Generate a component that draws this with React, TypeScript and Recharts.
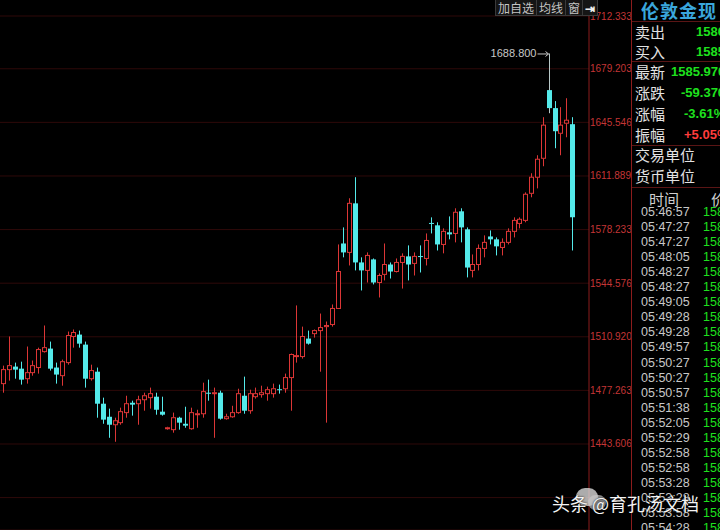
import { Bar, CartesianGrid, ComposedChart, XAxis, YAxis } from 'recharts'

// 伦敦金现 candles (oldest -> newest)
const opens = [
  1481.5, 1490.3, 1492.2, 1490.9, 1484.6, 1488.4, 1491.6, 1501.6, 1503.5, 1491.6,
  1486.5, 1494.7, 1511.1, 1512.3, 1506.0, 1484.6, 1489.0, 1468.9, 1460.7, 1455.7,
  1457.0, 1463.3, 1469.5, 1468.9, 1471.4, 1472.7, 1473.3, 1463.9, 1453.2, 1452.6,
  1460.1, 1456.3, 1453.2, 1462.0, 1462.6, 1475.8, 1475.2, 1475.8, 1459.5, 1460.7,
  1463.3, 1473.9, 1464.5, 1473.3, 1474.6, 1475.2, 1475.2, 1478.0, 1478.3, 1485.3,
  1498.5, 1498.5, 1509.8, 1512.9, 1514.8, 1517.3, 1518.6, 1528.7, 1569.5, 1563.9,
  1594.7, 1557.6, 1552.6, 1559.5, 1545.0, 1550.1, 1556.3, 1551.9, 1557.6, 1561.4,
  1557.0, 1561.6, 1560.1, 1582.4, 1580.9, 1568.9, 1576.5, 1575.8, 1589.7, 1578.4,
  1552.6, 1556.3, 1566.4, 1573.9, 1572.1, 1567.0, 1570.2, 1577.1, 1582.1, 1584.0,
  1601.0, 1611.1, 1623.0, 1665.8, 1654.5, 1638.7, 1645.0, 1644.4,
]
const highs = [
  1492.8, 1511.1, 1494.7, 1495.3, 1504.8, 1496.0, 1504.1, 1518.0, 1507.9, 1494.7,
  1496.6, 1514.2, 1515.5, 1514.8, 1507.9, 1493.4, 1491.6, 1472.7, 1465.8, 1460.1,
  1466.4, 1473.9, 1470.8, 1473.9, 1475.8, 1479.0, 1475.8, 1473.3, 1454.4, 1463.3,
  1460.7, 1467.0, 1466.4, 1465.1, 1482.1, 1484.0, 1479.0, 1477.1, 1462.6, 1467.6,
  1478.3, 1485.9, 1477.7, 1479.0, 1480.2, 1479.6, 1481.5, 1480.9, 1487.8, 1500.4,
  1530.6, 1517.3, 1514.8, 1515.5, 1525.5, 1520.5, 1531.2, 1568.9, 1579.6, 1597.9,
  1611.1, 1560.8, 1563.9, 1560.1, 1550.7, 1569.5, 1557.6, 1560.1, 1563.3, 1568.3,
  1563.9, 1568.3, 1575.8, 1585.9, 1582.8, 1579.0, 1586.5, 1591.6, 1591.6, 1579.6,
  1562.6, 1568.9, 1574.6, 1577.7, 1573.3, 1572.7, 1579.0, 1585.9, 1585.9, 1601.6,
  1613.6, 1624.9, 1648.8, 1688.8, 1658.9, 1655.1, 1660.7, 1648.8,
]
const lows = [
  1475.8, 1483.4, 1484.6, 1480.9, 1481.5, 1486.5, 1487.8, 1501.0, 1489.7, 1481.5,
  1480.2, 1493.4, 1504.1, 1504.1, 1479.0, 1483.4, 1460.1, 1456.3, 1447.5, 1445.0,
  1455.7, 1460.1, 1461.4, 1455.7, 1464.5, 1465.8, 1462.0, 1461.4, 1452.6, 1450.7,
  1452.6, 1453.8, 1452.6, 1453.8, 1460.1, 1470.8, 1447.5, 1458.9, 1458.9, 1460.1,
  1462.6, 1462.6, 1462.6, 1472.1, 1472.7, 1470.8, 1472.7, 1475.2, 1475.8, 1464.5,
  1494.7, 1497.2, 1506.0, 1510.4, 1489.0, 1457.0, 1517.3, 1528.7, 1560.8, 1555.7,
  1552.6, 1540.0, 1545.0, 1543.8, 1535.6, 1546.3, 1547.5, 1551.3, 1541.2, 1546.3,
  1549.4, 1551.3, 1555.7, 1575.8, 1565.1, 1563.3, 1572.1, 1570.2, 1570.2, 1548.2,
  1548.2, 1552.6, 1560.8, 1568.9, 1562.0, 1562.0, 1568.9, 1573.3, 1579.0, 1582.8,
  1598.5, 1604.1, 1618.0, 1651.3, 1629.3, 1624.9, 1636.2, 1565.1,
]
const closes = [
  1490.3, 1492.8, 1490.3, 1484.0, 1488.4, 1492.8, 1502.9, 1504.1, 1490.9, 1487.2,
  1495.3, 1511.7, 1513.6, 1506.6, 1484.6, 1489.7, 1468.9, 1458.9, 1455.7, 1458.2,
  1463.9, 1468.9, 1468.3, 1471.4, 1473.9, 1475.2, 1465.1, 1462.0, 1453.8, 1460.1,
  1457.0, 1455.1, 1463.3, 1462.6, 1476.5, 1475.2, 1475.8, 1459.5, 1460.7, 1463.3,
  1475.2, 1464.5, 1475.2, 1475.2, 1475.8, 1477.7, 1478.3, 1477.7, 1485.3, 1499.8,
  1499.1, 1511.1, 1506.6, 1514.8, 1516.7, 1518.0, 1528.7, 1551.9, 1563.9, 1594.7,
  1557.6, 1552.6, 1562.0, 1545.0, 1549.4, 1556.3, 1551.9, 1557.6, 1561.4, 1556.3,
  1561.4, 1561.2, 1571.4, 1582.1, 1568.9, 1577.1, 1575.2, 1589.1, 1579.6, 1554.4,
  1556.3, 1566.4, 1570.2, 1572.1, 1567.7, 1570.2, 1577.1, 1584.0, 1584.7, 1600.4,
  1611.1, 1622.4, 1643.8, 1654.5, 1640.0, 1643.8, 1646.9, 1585.97,
]

const priceTicks = [1712.333, 1679.203, 1645.546, 1611.889, 1578.233, 1544.576, 1510.92, 1477.263, 1443.606, 1409.949]

const quoteRows = [
  { label: '卖出', value: '1586.170', color: '#1ee01e' },
  { label: '买入', value: '1585.970', color: '#1ee01e' },
]
const statRows = [
  { label: '最新', value: '1585.970', color: '#1ee01e' },
  { label: '涨跌', value: '-59.370', color: '#1ee01e' },
  { label: '涨幅', value: '-3.61%', color: '#1ee01e' },
  { label: '振幅', value: '+5.05%', color: '#ff3c3c' },
]
const tradeTimes = [
  '05:46:57', '05:47:27', '05:47:27', '05:48:05', '05:48:27', '05:48:27', '05:49:05', '05:49:28',
  '05:49:28', '05:49:57', '05:50:27', '05:50:27', '05:50:57', '05:51:38', '05:52:05', '05:52:29',
  '05:52:58', '05:52:58', '05:53:28', '05:53:28', '05:53:58', '05:54:28',
]
const tradePrices = [
  '1585.97', '1585.97', '1585.87', '1585.97', '1585.97', '1585.87', '1585.97', '1585.87',
  '1585.97', '1585.87', '1585.97', '1585.97', '1585.97', '1585.87', '1585.97', '1585.87',
  '1585.97', '1585.97', '1585.87', '1585.97', '1585.97', '1585.97',
]

const RED = '#dc3636'
const CYAN = '#54eaea'
const NUM_FONT = '"Liberation Sans", Arial, sans-serif'
const CJK_FONT = '"Noto Sans CJK SC", "Liberation Sans", sans-serif'

const candles = opens.map((open, i) => ({
  i,
  open,
  high: highs[i],
  low: lows[i],
  close: closes[i],
}))
const maxHigh = Math.max(...highs)

function Candle(props: any) {
  const { x, y, width, height, payload } = props
  const { open, close, high, low } = payload
  const cx = Math.round(x + width / 2) + 0.5
  const span = high - low || 1
  const toY = (v: number) => y + ((high - v) / span) * height
  const up = close >= open
  const color = up ? RED : CYAN
  const top = toY(Math.max(open, close))
  const bottom = toY(Math.min(open, close))
  const bodyH = Math.max(bottom - top, 1)
  const bw = 4
  const isMax = high === maxHigh
  return (
    <g>
      {up ? (
        <>
          <line x1={cx} x2={cx} y1={y} y2={top} stroke={color} strokeWidth={1} />
          <line x1={cx} x2={cx} y1={top + bodyH} y2={y + height} stroke={color} strokeWidth={1} />
          <rect x={cx - bw / 2} y={top} width={bw} height={bodyH} fill="#000" stroke={color} strokeWidth={1} />
        </>
      ) : (
        <>
          <line x1={cx} x2={cx} y1={y} y2={y + height} stroke={isMax ? '#b8c8c8' : color} strokeWidth={1} />
          <rect x={cx - bw / 2 - 0.5} y={top} width={bw + 1} height={bodyH} fill={color} />
        </>
      )}
      {isMax && (
        <g>
          <line x1={cx - 12} x2={cx - 1} y1={y + 0.5} y2={y + 0.5} stroke="#c8c8c8" strokeWidth={1} />
          <polyline points={`${cx - 4},${y - 2} ${cx - 1},${y + 0.5} ${cx - 4},${y + 3}`} fill="none" stroke="#c8c8c8" />
          <text x={cx - 13} y={y} textAnchor="end" dominantBaseline="central" fill="#c8c8c8" fontSize={11} fontFamily={NUM_FONT}>
            {high.toFixed(3)}
          </text>
        </g>
      )}
    </g>
  )
}

function PriceTick(props: any) {
  const { x, y, payload } = props
  if (payload.value < 1420) return <g />
  return (
    <text x={x} y={y} dominantBaseline="central" fill="#c43636" fontSize={10} fontFamily={NUM_FONT}>
      {payload.value.toFixed(3)}
    </text>
  )
}

function Sep({ top }: { top: number }) {
  return <div style={{ position: 'absolute', left: 0, top, width: 89, height: 1, background: '#5a1515' }} />
}

function SidePanel() {
  const label = { position: 'absolute' as const, left: 3, fontSize: 15, color: '#e2e2e2', fontFamily: CJK_FONT, lineHeight: '20px', whiteSpace: 'nowrap' as const }
  const value = { position: 'absolute' as const, fontSize: 13, fontWeight: 700, fontFamily: NUM_FONT, lineHeight: '20px', whiteSpace: 'nowrap' as const }
  return (
    <div style={{ position: 'absolute', left: 631, top: 0, width: 89, height: 530, overflow: 'hidden', background: '#000', borderLeft: '1px solid #8c1c1c' }}>
      <div style={{ position: 'absolute', left: 9, top: -2, fontSize: 18, fontWeight: 700, color: '#3aa6dc', fontFamily: CJK_FONT, letterSpacing: 1, lineHeight: '24px', whiteSpace: 'nowrap' }}>
        伦敦金现
      </div>
      <Sep top={21} />
      {quoteRows.map((r, k) => (
        <div key={r.label}>
          <div style={{ ...label, top: 22 + k * 20 }}>{r.label}</div>
          <div style={{ ...value, left: 64, top: 22 + k * 20, color: r.color }}>{r.value}</div>
        </div>
      ))}
      <Sep top={61} />
      {statRows.map((r, k) => (
        <div key={r.label}>
          <div style={{ ...label, top: 62 + k * 21 }}>{r.label}</div>
          <div style={{ ...value, left: k === 0 ? 39 : k === 1 ? 49 : 52, top: 62 + k * 21, color: r.color }}>{r.value}</div>
        </div>
      ))}
      <Sep top={145} />
      <div style={{ ...label, top: 145 }}>交易单位</div>
      <div style={{ ...label, top: 166 }}>货币单位</div>
      <Sep top={187} />
      <div style={{ ...label, left: 17, top: 189, color: '#cfcfcf' }}>时间</div>
      <div style={{ ...label, left: 79, top: 189, color: '#cfcfcf' }}>价</div>
      {tradeTimes.map((t, k) => (
        <div key={k}>
          <div style={{ position: 'absolute', left: 9, top: 204 + k * 15.05, fontSize: 12.5, color: '#c8c8c8', fontFamily: NUM_FONT, lineHeight: '16px' }}>{t}</div>
          <div style={{ position: 'absolute', left: 71, top: 204 + k * 15.05, fontSize: 12.5, color: '#1ee01e', fontFamily: NUM_FONT, lineHeight: '16px', whiteSpace: 'nowrap' }}>{tradePrices[k]}</div>
        </div>
      ))}
    </div>
  )
}

function Toolbar() {
  const cell = { height: 15, lineHeight: '15px', fontSize: 12, color: '#c4c4c4', fontFamily: CJK_FONT, borderRight: '1px solid #3a3a3a', padding: '0 2px', background: '#151515' }
  return (
    <div style={{ position: 'absolute', left: 495, top: 0, height: 15, display: 'flex', border: '1px solid #3a3a3a', borderTop: 'none' }}>
      <div style={cell}>加自选</div>
      <div style={cell}>均线</div>
      <div style={cell}>窗</div>
      <div style={{ ...cell, borderRight: 'none', color: '#eee', fontWeight: 700 }}>⇥</div>
    </div>
  )
}

export default function App() {
  return (
    <div style={{ position: 'absolute', left: 0, top: 0, width: 720, height: 530, background: '#000', overflow: 'hidden' }}>
      <ComposedChart width={631} height={530} data={candles} margin={{ top: 16, right: 0, bottom: 0, left: 0 }}>
        <CartesianGrid horizontal vertical={false} stroke="#2e0909" />
        <XAxis dataKey="i" hide padding={{ left: 0, right: 14 }} />
        <YAxis
          orientation="right"
          width={42}
          domain={[1389.6, 1712.333]}
          ticks={priceTicks}
          allowDataOverflow
          tickSize={0}
          tickMargin={1}
          axisLine={{ stroke: '#8c1c1c' }}
          tickLine={false}
          tick={<PriceTick />}
        />
        <Bar dataKey={(d: any) => [d.low, d.high]} shape={<Candle />} isAnimationActive={false} />
      </ComposedChart>
      <Toolbar />
      <SidePanel />
      <div style={{ position: 'absolute', left: 576, top: 488, width: 22, height: 18, borderRadius: 11, background: 'rgba(230,230,230,0.75)' }} />
      <div style={{ position: 'absolute', left: 588, top: 495, width: 18, height: 15, borderRadius: 9, background: 'rgba(200,200,200,0.7)' }} />
      <div style={{ position: 'absolute', left: 552, top: 491, fontSize: 18, color: '#f4f4f4', fontFamily: CJK_FONT, lineHeight: '24px', whiteSpace: 'nowrap', textShadow: '0 0 2px #000' }}>
        头条 @育孔汤文档
      </div>
    </div>
  )
}
